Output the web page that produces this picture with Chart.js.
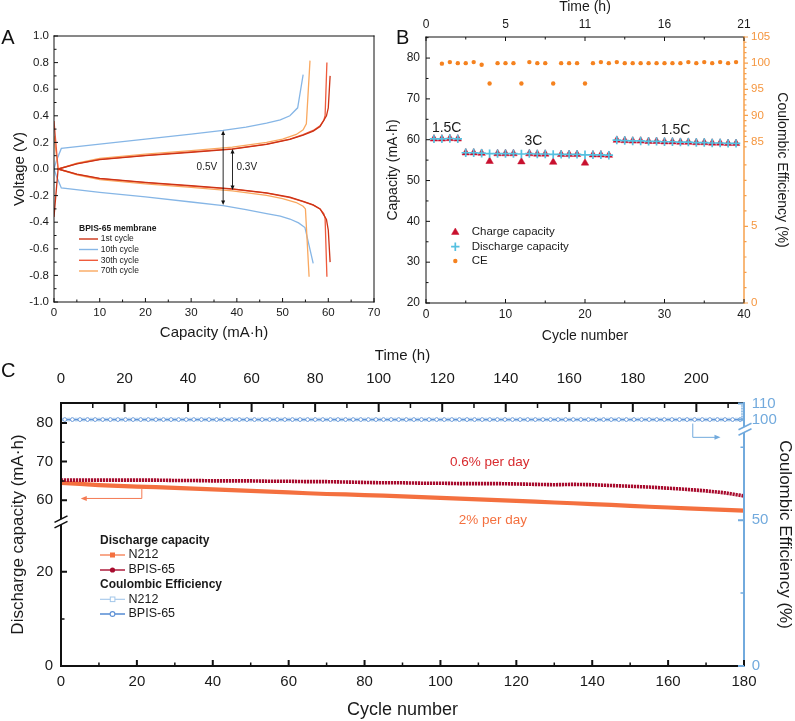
<!DOCTYPE html>
<html><head><meta charset="utf-8">
<script src="https://cdn.jsdelivr.net/npm/chart.js@4.4.1/dist/chart.umd.min.js"></script>
<style>
html,body{margin:0;padding:0;background:#fff;}
#wrap{position:relative;width:795px;height:721px;overflow:hidden;background:#fff;}
canvas{position:absolute;left:0;top:0;}
</style></head><body>
<div id="wrap">
<canvas id="cA" width="795" height="721"></canvas>
<canvas id="cB" width="795" height="721"></canvas>
<canvas id="cC" width="795" height="721"></canvas>
</div>
<script>
// ================= DATA =================
// Panel A: voltage profiles (capacity mA·h, voltage V)
const seriesNamesA = ['1st cycle', '10th cycle', '30th cycle', '70th cycle'];
const c1ChargeCap = [0, 0.9, 5, 10, 20, 30, 39, 46.5, 51.6, 54.5, 56.7, 58.2, 59.1, 59.6, 60.0, 60.4];
const c1ChargeV   = [-0.36, 0.0, 0.038, 0.07, 0.10, 0.125, 0.15, 0.185, 0.222, 0.255, 0.285, 0.32, 0.37, 0.40, 0.46, 0.70];
const c1DischCap  = [0.9, 5, 10, 20, 30, 39, 46.5, 51.6, 54.5, 56.7, 58.2, 59.1, 59.6, 60.0, 60.4];
const c1DischV    = [0.0, -0.038, -0.07, -0.10, -0.125, -0.15, -0.18, -0.212, -0.243, -0.27, -0.30, -0.35, -0.38, -0.46, -0.70];
const c10ChargeCap = [0, 0.5, 1.6, 10, 20, 30, 37, 42, 46.5, 49.5, 51.6, 53.3, 54.5];
const c10ChargeV   = [0.0, 0.06, 0.155, 0.187, 0.225, 0.262, 0.29, 0.315, 0.345, 0.37, 0.40, 0.46, 0.71];
const c10DischCap  = [0, 0.5, 1.6, 10, 20, 30, 37, 42, 46.5, 49.5, 51.6, 53.5, 54.9, 56.7];
const c10DischV    = [0.0, -0.05, -0.143, -0.175, -0.21, -0.248, -0.276, -0.305, -0.335, -0.355, -0.376, -0.405, -0.44, -0.71];
const c30ChargeCap = [0.9, 5, 10, 20, 30, 39, 46.5, 51.6, 54.5, 56.7, 58.2, 59.0, 59.3, 59.7];
const c30ChargeV   = [0.0, 0.04, 0.072, 0.103, 0.128, 0.152, 0.187, 0.224, 0.258, 0.29, 0.325, 0.365, 0.40, 0.80];
const c30DischCap  = [0, 0.9, 5, 10, 20, 30, 39, 46.5, 51.6, 54.5, 56.7, 58.2, 59.0, 59.3, 59.7];
const c30DischV    = [0.36, 0.0, -0.04, -0.072, -0.103, -0.128, -0.152, -0.182, -0.215, -0.245, -0.272, -0.30, -0.335, -0.37, -0.81];
const c70ChargeCap = [0.9, 5, 10, 20, 30, 39, 46.5, 50, 53, 54.5, 55.2, 56.0];
const c70ChargeV   = [0.0, 0.045, 0.08, 0.112, 0.138, 0.165, 0.2, 0.225, 0.26, 0.295, 0.34, 0.815];
const c70DischCap  = [0, 0.9, 5, 10, 20, 30, 39, 46.5, 50, 53, 54.5, 55.0, 55.8];
const c70DischV    = [0.25, 0.0, -0.045, -0.08, -0.112, -0.138, -0.165, -0.198, -0.222, -0.252, -0.28, -0.30, -0.81];

// Panel B: rate capability
const cyclesB = [1,2,3,4,5,6,7,8,9,10,11,12,13,14,15,16,17,18,19,20,21,22,23,24,25,26,27,28,29,30,31,32,33,34,35,36,37,38,39];
const chargeB = [60.2,60.2,60.3,60.2, 56.8,56.8,56.7,54.7,56.6,56.6,56.6,54.6,56.6,56.5,56.5,54.5,56.4,56.4,56.4,54.3,56.3,56.3,56.2,
                 59.9,59.8,59.7,59.7,59.6,59.6,59.5,59.5,59.4,59.4,59.3,59.3,59.2,59.2,59.1,59.1];
const dischargeB = [60.2,60.2,60.3,60.2, 56.8,56.8,56.7,56.6,56.6,56.6,56.6,56.5,56.6,56.5,56.5,56.4,56.4,56.4,56.4,56.3,56.3,56.3,56.2,
                 59.9,59.8,59.7,59.7,59.6,59.6,59.5,59.5,59.4,59.4,59.3,59.3,59.2,59.2,59.1,59.1];
const ceB = [null, 99.9,100.2,100.0,100.0,100.2,99.7,96.1,100.0,100.0,100.0,96.1,100.2,100.0,100.0,96.1,100.0,100.0,100.0,96.1,
             100.0,100.2,100.0,100.2,100.0,100.0,100.0,100.0,100.0,100.0,100.0,100.0,100.2,100.0,100.2,100.0,100.2,100.0,100.2];
const rateLabelsB = ['1.5C', '3C', '1.5C'];
const timeTicksB = [0, 5.25, 10.5, 15.75, 21];
const timeLabelsB = ['0', '5', '11', '16', '21'];

// Panel C: long-term cycling
const cyclesC = [0,5,10,15,20,25,30,35,40,45,50,55,60,65,70,75,80,85,90,95,100,105,110,115,120,125,130,135,140,145,150,155,160,165,170,175,180];
const n212DischargeC = [64.5,64.2,63.9,63.7,63.5,63.4,63.2,63.0,62.8,62.6,62.4,62.2,62.0,61.8,61.6,61.5,61.3,61.2,61.0,60.8,
                        60.6,60.4,60.2,60.0,59.8,59.6,59.4,59.2,59.0,58.8,58.5,58.3,58.1,57.9,57.7,57.5,57.3];
const bpisDischargeC = [65.2,65.2,65.2,65.2,65.2,65.2,65.1,65.1,65.0,65.0,65.0,64.9,64.9,64.8,64.8,64.7,64.6,64.5,64.5,64.4,
                        64.4,64.3,64.3,64.3,64.2,64.1,64.0,64.1,64.0,63.8,63.6,63.4,63.1,62.8,62.4,61.9,61.1];
const n212CE_C = [100,100,100,100,100,100,100,100,100,100, 100,100,100,100,100,100,100,100,100,100,
                  100,100,100,100,100,100,100,100,100,100, 100,100,100,100,100,100,100,100,100,100,
                  100,100,100,100,100,100,100,100,100,100, 100,100,100,100,100,100,100,100,100,100,
                  100,100,100,100,100,100,100,100,100,100, 100,100,100,100,100,100,100,100,100,100,
                  100,100,100,100,100,100,100,100,100,100, 100];
const bpisCE_C = [100,100,100,100,100,100,100,100,100,100, 100,100,100,100,100,100,100,100,100,100,
                  100,100,100,100,100,100,100,100,100,100, 100,100,100,100,100,100,100,100,100,100,
                  100,100,100,100,100,100,100,100,100,100, 100,100,100,100,100,100,100,100,100,100,
                  100,100,100,100,100,100,100,100,100,100, 100,100,100,100,100,100,100,100,100,100,
                  100,100,100,100,100,100,100,100,100,100];

// ================= HELPERS =================
const FONT = "'Liberation Sans', Arial, Helvetica, sans-serif";
Chart.defaults.font.family = FONT;
Chart.defaults.color = '#1a1a1a';
Chart.defaults.animation = false;
Chart.defaults.responsive = false;
Chart.defaults.plugins.legend.display = false;
Chart.defaults.plugins.tooltip.enabled = false;

const toXY = (xs, ys) => xs.map((x, i) => ({x: x, y: ys[i]}));
const range = (a, b, s) => { const r = []; for (let v = a; v <= b + 1e-9; v += s) r.push(+v.toFixed(6)); return r; };
const fitW = w => s => { s.width = w; s.paddingLeft = s.paddingRight = s.paddingTop = s.paddingBottom = 0; };
const fitH = h => s => { s.height = h; s.paddingLeft = s.paddingRight = s.paddingTop = s.paddingBottom = 0; };
const setTicks = arr => s => { s.ticks = arr.map(v => ({value: v})); };
const noGrid = {display: false, drawTicks: false};
const noBorder = {display: false};

// Broken (two-segment) linear scale
const BREAKS = {};
class BrokenScale extends Chart.LinearScale {
  _cfg() { return BREAKS[this.chart.canvas.id + ':' + this.id]; }
  getPixelForValue(v) {
    if (v === null || v === undefined || isNaN(v)) return NaN;
    const c = this._cfg();
    const s = v < c.breakValue ? c.segs[0] : c.segs[1];
    const f = s[1] + (v - s[0]) * (s[3] - s[1]) / (s[2] - s[0]);
    return this.getPixelForDecimal(f);
  }
  getValueForPixel(p) {
    const c = this._cfg();
    const d = this.getDecimalForPixel(p);
    const s = d < c.breakFrac ? c.segs[0] : c.segs[1];
    return s[0] + (d - s[1]) * (s[2] - s[0]) / (s[3] - s[1]);
  }
}
BrokenScale.id = 'broken';
BrokenScale.defaults = Chart.LinearScale.defaults;
Chart.register(BrokenScale);

function drawTicks(ctx, chart, scale, vals, len, side, color, lw) {
  const ca = chart.chartArea;
  ctx.save(); ctx.strokeStyle = color; ctx.lineWidth = lw; ctx.beginPath();
  for (const v of vals) {
    const p = scale.getPixelForValue(v);
    if (side === 'bottom') { ctx.moveTo(p, ca.bottom); ctx.lineTo(p, ca.bottom - len); }
    else if (side === 'top') { ctx.moveTo(p, ca.top); ctx.lineTo(p, ca.top + len); }
    else if (side === 'left') { ctx.moveTo(ca.left, p); ctx.lineTo(ca.left + len, p); }
    else if (side === 'right') { ctx.moveTo(ca.right, p); ctx.lineTo(ca.right - len, p); }
    else if (side === 'rightOut') { ctx.moveTo(ca.right, p); ctx.lineTo(ca.right + len, p); }
  }
  ctx.stroke(); ctx.restore();
}
function line(ctx, pts, color, lw, dash) {
  ctx.save(); ctx.strokeStyle = color; ctx.lineWidth = lw; if (dash) ctx.setLineDash(dash);
  ctx.beginPath(); ctx.moveTo(pts[0][0], pts[0][1]);
  for (let i = 1; i < pts.length; i++) ctx.lineTo(pts[i][0], pts[i][1]);
  ctx.stroke(); ctx.restore();
}
function arrowHead(ctx, x, y, dir, size, w, color) {
  ctx.save(); ctx.fillStyle = color; ctx.beginPath();
  if (dir === 'up') { ctx.moveTo(x, y); ctx.lineTo(x - w, y + size); ctx.lineTo(x + w, y + size); }
  else if (dir === 'down') { ctx.moveTo(x, y); ctx.lineTo(x - w, y - size); ctx.lineTo(x + w, y - size); }
  else if (dir === 'left') { ctx.moveTo(x, y); ctx.lineTo(x + size, y - w); ctx.lineTo(x + size, y + w); }
  else { ctx.moveTo(x, y); ctx.lineTo(x - size, y - w); ctx.lineTo(x - size, y + w); }
  ctx.closePath(); ctx.fill(); ctx.restore();
}
function text(ctx, s, x, y, font, color, align) {
  ctx.save(); ctx.font = font; ctx.fillStyle = color; ctx.textAlign = align || 'left'; ctx.textBaseline = 'middle';
  ctx.fillText(s, x, y); ctx.restore();
}
function breakMark(ctx, x, y, color, lw) {
  ctx.save();
  ctx.fillStyle = '#fff';
  ctx.beginPath(); ctx.moveTo(x - 6, y + 5.5); ctx.lineTo(x + 6, y - 0.5); ctx.lineTo(x + 6, y - 5.5); ctx.lineTo(x - 6, y + 0.5); ctx.closePath(); ctx.fill();
  ctx.strokeStyle = color; ctx.lineWidth = lw;
  ctx.beginPath();
  ctx.moveTo(x - 6.5, y + 6); ctx.lineTo(x + 6.5, y - 0.5);
  ctx.moveTo(x - 6.5, y + 0.5); ctx.lineTo(x + 6.5, y - 6);
  ctx.stroke(); ctx.restore();
}
function frame(ctx, ca, colors, lw) {
  ctx.save(); ctx.lineWidth = lw; ctx.lineCap = 'square';
  const sides = [['top', [ca.left, ca.top], [ca.right, ca.top]], ['bottom', [ca.left, ca.bottom], [ca.right, ca.bottom]],
                 ['left', [ca.left, ca.top], [ca.left, ca.bottom]], ['right', [ca.right, ca.top], [ca.right, ca.bottom]]];
  for (const [k, a, b] of sides) {
    if (!colors[k]) continue;
    ctx.strokeStyle = colors[k]; ctx.beginPath(); ctx.moveTo(a[0], a[1]); ctx.lineTo(b[0], b[1]); ctx.stroke();
  }
  ctx.restore();
}

// ================= PANEL A =================
const colA = {c1: '#cc3315', c10: '#86b6e6', c30: '#ef5b3c', c70: '#f9a85f'};
const dsA = (xs, ys, color) => ({data: toXY(xs, ys), borderColor: color, backgroundColor: color, borderWidth: 1.3, pointRadius: 0, showLine: true, tension: 0});
new Chart(document.getElementById('cA'), {
  type: 'scatter',
  data: {datasets: [
    dsA(c1ChargeCap, c1ChargeV, colA.c1), dsA(c1DischCap, c1DischV, colA.c1),
    dsA(c30ChargeCap, c30ChargeV, colA.c30), dsA(c30DischCap, c30DischV, colA.c30),
    dsA(c70ChargeCap, c70ChargeV, colA.c70), dsA(c70DischCap, c70DischV, colA.c70),
    dsA(c10ChargeCap, c10ChargeV, colA.c10), dsA(c10DischCap, c10DischV, colA.c10)
  ]},
  options: {
    layout: {padding: {left: 0, top: 36, right: 421, bottom: 374}},
    scales: {
      x: {type: 'linear', position: 'bottom', min: 0, max: 70, afterBuildTicks: setTicks(range(0, 70, 10)),
          ticks: {font: {size: 11.5}, padding: 4, color: '#1a1a1a', callback: v => String(v)},
          grid: noGrid, border: noBorder, afterFit: fitH(45),
          title: {display: true, text: 'Capacity (mA·h)', font: {size: 15}, color: '#1a1a1a', padding: {top: 0, bottom: 5}}},
      y: {type: 'linear', position: 'left', min: -1, max: 1, afterBuildTicks: setTicks(range(-1, 1, 0.2)),
          ticks: {font: {size: 11.5}, padding: 5, color: '#1a1a1a', callback: v => (Math.abs(v) < 1e-9 ? '0.0' : v.toFixed(1))},
          grid: noGrid, border: noBorder, afterFit: fitW(54),
          title: {display: true, text: 'Voltage (V)', font: {size: 15}, color: '#1a1a1a', padding: {top: 11, bottom: 0}}}
    }
  },
  plugins: [{id: 'decoA', afterDraw(chart) {
    const ctx = chart.ctx, ca = chart.chartArea, xs = chart.scales.x, ys = chart.scales.y;
    frame(ctx, ca, {top: '#111', bottom: '#111', left: '#111', right: '#111'}, 1);
    drawTicks(ctx, chart, xs, range(0, 70, 10), 4, 'bottom', '#111', 1);
    drawTicks(ctx, chart, xs, range(5, 65, 10), 2.5, 'bottom', '#111', 1);
    drawTicks(ctx, chart, ys, range(-1, 1, 0.2), 4, 'left', '#111', 1);
    drawTicks(ctx, chart, ys, range(-0.9, 0.9, 0.2), 2.5, 'left', '#111', 1);
    // voltage-gap arrows
    const ax1 = xs.getPixelForValue(37.0), ax2 = xs.getPixelForValue(39.05);
    const a1t = ys.getPixelForValue(0.29), a1b = ys.getPixelForValue(-0.27);
    const a2t = ys.getPixelForValue(0.15), a2b = ys.getPixelForValue(-0.158);
    line(ctx, [[ax1, a1t + 3], [ax1, a1b - 3]], '#111', 0.9);
    arrowHead(ctx, ax1, a1t, 'up', 4.5, 2, '#111'); arrowHead(ctx, ax1, a1b, 'down', 4.5, 2, '#111');
    line(ctx, [[ax2, a2t + 3], [ax2, a2b - 3]], '#111', 0.9);
    arrowHead(ctx, ax2, a2t, 'up', 4.5, 2, '#111'); arrowHead(ctx, ax2, a2b, 'down', 4.5, 2, '#111');
    const ly = ys.getPixelForValue(0.012);
    text(ctx, '0.5V', ax1 - 6, ly, '10px ' + FONT, '#1a1a1a', 'right');
    text(ctx, '0.3V', ax2 + 4, ly, '10px ' + FONT, '#1a1a1a', 'left');
    // legend
    text(ctx, 'BPIS-65 membrane', 79, 228.3, 'bold 8.5px ' + FONT, '#1a1a1a', 'left');
    const lc = [colA.c1, colA.c10, colA.c30, colA.c70], ly2 = [239, 249.5, 260.3, 271];
    for (let i = 0; i < 4; i++) {
      line(ctx, [[79, ly2[i]], [98, ly2[i]]], lc[i], 1.4);
      text(ctx, seriesNamesA[i], 100.7, ly2[i], '8.5px ' + FONT, '#1a1a1a', 'left');
    }
    text(ctx, 'A', 8, 38, '20px ' + FONT, '#111', 'center');
  }}]
});

// ================= PANEL B =================
BREAKS['cB:y2'] = {breakValue: 40, breakFrac: 0.58, segs: [[0, 0, 5, 0.2883], [85, 0.6068, 105, 1.0]]};
const cB = {charge: '#c8102e', dis: '#55c0e0', ce: '#f5821f', axis: '#f6a04c'};
new Chart(document.getElementById('cB'), {
  type: 'scatter',
  data: {datasets: [
    {data: toXY(cyclesB, dischargeB), pointStyle: 'cross', pointRadius: 4.2, pointBorderWidth: 1.7, borderColor: cB.dis, backgroundColor: cB.dis},
    {data: toXY(cyclesB, chargeB), pointStyle: 'triangle', pointRadius: 4.3, pointBorderWidth: 0.5, borderColor: cB.charge, backgroundColor: cB.charge},
    {data: toXY(cyclesB, ceB), yAxisID: 'y2', pointStyle: 'circle', pointRadius: 2.2, pointBorderWidth: 0, borderColor: cB.ce, backgroundColor: cB.ce}
  ]},
  options: {
    layout: {padding: {left: 380, top: 0, right: 0, bottom: 373}},
    scales: {
      x: {type: 'linear', position: 'bottom', min: 0, max: 40, afterBuildTicks: setTicks(range(0, 40, 10)),
          ticks: {font: {size: 12}, padding: 4.4, color: '#1a1a1a', callback: v => String(v)},
          grid: noGrid, border: noBorder, afterFit: fitH(45),
          title: {display: true, text: 'Cycle number', font: {size: 14}, color: '#1a1a1a', padding: {top: 0, bottom: 3.6}}},
      xt: {type: 'linear', position: 'top', min: 0, max: 21, afterBuildTicks: setTicks(timeTicksB),
          ticks: {font: {size: 12}, padding: 4.7, color: '#1a1a1a', callback: (v, i) => timeLabelsB[i]},
          grid: noGrid, border: noBorder, afterFit: fitH(37),
          title: {display: true, text: 'Time (h)', font: {size: 14, lineHeight: 1}, color: '#1a1a1a', padding: {top: -0.3, bottom: 0}}},
      y: {type: 'linear', position: 'left', min: 20, max: 85.16, afterBuildTicks: setTicks(range(20, 80, 10)),
          ticks: {font: {size: 12}, padding: 6, color: '#1a1a1a', callback: v => String(v)},
          grid: noGrid, border: noBorder, afterFit: fitW(46),
          title: {display: true, text: 'Capacity (mA·h)', font: {size: 14}, color: '#1a1a1a', padding: {top: 4.6, bottom: 0}}},
      y2: {type: 'broken', position: 'right', min: 0, max: 105, afterBuildTicks: setTicks([0, 5, 85, 90, 95, 100, 105]),
          ticks: {font: {size: 11.5}, padding: 7, color: '#f5963f', callback: v => String(v)},
          grid: noGrid, border: noBorder, afterFit: fitW(51),
          title: {display: true, text: 'Coulombic Efficiency (%)', font: {size: 14}, color: '#1a1a1a', padding: {top: 5, bottom: 0}}}
    }
  },
  plugins: [{id: 'decoB', afterDraw(chart) {
    const ctx = chart.ctx, ca = chart.chartArea, xs = chart.scales.x, xt = chart.scales.xt, ys = chart.scales.y, y2 = chart.scales.y2;
    frame(ctx, ca, {top: '#111', bottom: '#111', left: '#111'}, 1);
    frame(ctx, ca, {right: cB.axis}, 1.5);
    drawTicks(ctx, chart, xs, range(0, 40, 10), 4, 'bottom', '#111', 1);
    drawTicks(ctx, chart, xs, range(5, 35, 10), 2.5, 'bottom', '#111', 1);
    drawTicks(ctx, chart, xt, timeTicksB, 4, 'top', '#111', 1);
    drawTicks(ctx, chart, xt, [2.625, 7.875, 13.125, 18.375], 2.5, 'top', '#111', 1);
    drawTicks(ctx, chart, ys, range(20, 80, 10), 4, 'left', '#111', 1);
    drawTicks(ctx, chart, ys, range(25, 85, 10), 2.5, 'left', '#111', 1);
    drawTicks(ctx, chart, y2, [0, 5, 85, 90, 95, 100, 105], 4, 'rightOut', cB.axis, 1.2);
    drawTicks(ctx, chart, y2, range(1, 9, 1).filter(v => v !== 5), 2.5, 'rightOut', cB.axis, 1.2);
    drawTicks(ctx, chart, y2, range(84, 104, 1).filter(v => v % 5 !== 0), 2.5, 'rightOut', cB.axis, 1.2);
    // rate labels
    const f14 = '14px ' + FONT;
    text(ctx, rateLabelsB[0], xs.getPixelForValue(2.6), ys.getPixelForValue(62.8), f14, '#1a1a1a', 'center');
    text(ctx, rateLabelsB[1], xs.getPixelForValue(13.5), ys.getPixelForValue(59.7), f14, '#1a1a1a', 'center');
    text(ctx, rateLabelsB[2], xs.getPixelForValue(31.4), ys.getPixelForValue(62.3), f14, '#1a1a1a', 'center');
    // legend
    const lx = 455.3, lf = '11.5px ' + FONT;
    ctx.save(); ctx.fillStyle = cB.charge; ctx.strokeStyle = cB.charge; ctx.lineWidth = 0.5;
    Chart.helpers.drawPoint(ctx, {pointStyle: 'triangle', radius: 4.3, borderWidth: 0.5}, lx, 232.3); ctx.restore();
    ctx.save(); ctx.strokeStyle = cB.dis; ctx.lineWidth = 1.7;
    Chart.helpers.drawPoint(ctx, {pointStyle: 'cross', radius: 4.2, borderWidth: 1.7}, lx, 246.7); ctx.restore();
    ctx.save(); ctx.fillStyle = cB.ce; ctx.strokeStyle = cB.ce; ctx.lineWidth = 0;
    Chart.helpers.drawPoint(ctx, {pointStyle: 'circle', radius: 2.2, borderWidth: 0}, lx, 261); ctx.restore();
    text(ctx, 'Charge capacity', 471.7, 232.3, lf, '#1a1a1a');
    text(ctx, 'Discharge capacity', 471.7, 246.7, lf, '#1a1a1a');
    text(ctx, 'CE', 471.7, 261, lf, '#1a1a1a');
    text(ctx, 'B', 402.7, 38, '20px ' + FONT, '#111', 'center');
  }}]
});

// ================= PANEL C =================
BREAKS['cC:y'] = {breakValue: 42, breakFrac: 0.548, segs: [[0, 0, 20, 0.3581], [60, 0.6305, 80, 0.924]]};
BREAKS['cC:y2'] = {breakValue: 80, breakFrac: 0.90, segs: [[0, 0, 50, 0.5545], [100, 0.937, 110, 0.9977]]};
const cC = {n212: '#f4703f', bpis: '#a80c2e', ceN: '#a3c7ea', ceB: '#5f92d6', axis: '#72aadd'};
const evenC = n212CE_C.map((_, i) => i * 2);
const oddC = bpisCE_C.map((_, i) => i * 2 + 1);
new Chart(document.getElementById('cC'), {
  type: 'scatter',
  data: {datasets: [
    {data: toXY(oddC, bpisCE_C), yAxisID: 'y2', showLine: true, borderColor: cC.ceB, borderWidth: 1.2, pointStyle: 'circle', pointRadius: 1.9, pointBorderWidth: 0.9, pointBorderColor: cC.ceB, pointBackgroundColor: '#fff'},
    {data: toXY(evenC, n212CE_C), yAxisID: 'y2', showLine: true, borderColor: cC.ceN, borderWidth: 1, pointStyle: 'rect', pointRadius: 1.9, pointBorderWidth: 0.9, pointBorderColor: cC.ceN, pointBackgroundColor: '#fff'},
    {data: toXY(cyclesC, bpisDischargeC), showLine: true, borderColor: cC.bpis, borderWidth: 3.6, pointRadius: 0, borderDash: [2.2, 0.8]},
    {data: toXY(cyclesC, n212DischargeC), showLine: true, borderColor: cC.n212, borderWidth: 4.2, pointRadius: 0}
  ]},
  options: {
    layout: {padding: {left: 0, top: 340, right: 0, bottom: 0}},
    scales: {
      x: {type: 'linear', position: 'bottom', min: 0, max: 180, afterBuildTicks: setTicks(range(0, 180, 20)),
          ticks: {font: {size: 15}, padding: 6.7, color: '#1a1a1a', callback: v => String(v)},
          grid: noGrid, border: noBorder, afterFit: fitH(55),
          title: {display: true, text: 'Cycle number', font: {size: 18}, color: '#1a1a1a', padding: {top: 0, bottom: 0}}},
      xt: {type: 'linear', position: 'top', min: 0, max: 215, afterBuildTicks: setTicks(range(0, 200, 20)),
          ticks: {font: {size: 15}, padding: 14.7, color: '#1a1a1a', callback: v => String(v)},
          grid: noGrid, border: noBorder, afterFit: fitH(63),
          title: {display: true, text: 'Time (h)', font: {size: 15}, color: '#1a1a1a', padding: {top: 6.7, bottom: 0}}},
      y: {type: 'broken', position: 'left', min: 0, max: 85.18, afterBuildTicks: setTicks([0, 20, 60, 70, 80]),
          ticks: {font: {size: 15}, padding: 8, color: '#1a1a1a', callback: v => String(v)},
          grid: noGrid, border: noBorder, afterFit: fitW(61),
          title: {display: true, text: 'Discharge capacity (mA·h)', font: {size: 17}, color: '#1a1a1a', padding: {top: 8.1, bottom: 0}}},
      y2: {type: 'broken', position: 'right', min: 0, max: 110, afterBuildTicks: setTicks([0, 50, 100, 110]),
          ticks: {font: {size: 15}, padding: 7.7, color: cC.axis, callback: v => String(v)},
          grid: noGrid, border: noBorder, afterFit: fitW(51),
          title: {display: true, text: 'Coulombic Efficiency (%)', font: {size: 17}, color: '#1a1a1a', padding: {top: 0, bottom: 0}}}
    }
  },
  plugins: [{id: 'decoC', afterDraw(chart) {
    const ctx = chart.ctx, ca = chart.chartArea, xs = chart.scales.x, xt = chart.scales.xt, ys = chart.scales.y, y2 = chart.scales.y2;
    frame(ctx, ca, {top: '#111', bottom: '#111', left: '#111'}, 2);
    frame(ctx, ca, {right: cC.axis}, 2);
    drawTicks(ctx, chart, xs, range(0, 180, 20), 6, 'bottom', '#111', 2);
    drawTicks(ctx, chart, xs, range(10, 170, 20), 3.5, 'bottom', '#111', 1.5);
    drawTicks(ctx, chart, xt, range(0, 200, 20), 9, 'top', '#111', 2);
    drawTicks(ctx, chart, xt, range(10, 210, 20), 5, 'top', '#111', 1.5);
    drawTicks(ctx, chart, ys, [0, 20, 60, 70, 80], 6, 'left', '#111', 2);
    drawTicks(ctx, chart, ys, [10, 65, 75], 3.5, 'left', '#111', 1.5);
    drawTicks(ctx, chart, y2, [0, 50, 100, 110], 6, 'right', cC.axis, 2);
    drawTicks(ctx, chart, y2, [25, 75], 3.5, 'right', cC.axis, 1.5);
    drawTicks(ctx, chart, y2, [101, 102, 103, 104, 105, 106, 107, 108, 109], 3, 'right', cC.axis, 0.8);
    breakMark(ctx, ca.left, ys.getPixelForDecimal(0.548), '#111', 1.6);
    breakMark(ctx, ca.right + 1, y2.getPixelForDecimal(0.90), cC.axis, 1.6);
    // annotations
    text(ctx, '0.6% per day', xs.getPixelForValue(113.0), ys.getPixelForValue(69.7), '13.5px ' + FONT, '#d82a2e', 'center');
    text(ctx, '2% per day', xs.getPixelForValue(113.8), ys.getPixelForValue(54.8) , '13.5px ' + FONT, cC.n212, 'center');
    // arrows
    const ox = xs.getPixelForValue(21.3), oy1 = ys.getPixelForValue(62.9), oy2 = ys.getPixelForValue(60.45);
    line(ctx, [[ox, oy1], [ox, oy2], [xs.getPixelForValue(6.2), oy2]], '#f47a52', 1);
    arrowHead(ctx, xs.getPixelForValue(5.2), oy2, 'left', 6, 2.5, '#f47a52');
    const bx = xs.getPixelForValue(166.5), by1 = y2.getPixelForValue(97.5), by2 = y2.getPixelForValue(78.4);
    line(ctx, [[bx, by1], [bx, by2], [xs.getPixelForValue(172.6), by2]], cC.axis, 1);
    arrowHead(ctx, xs.getPixelForValue(173.8), by2, 'right', 6, 2.5, cC.axis);
    // legend
    const fb = 'bold 12px ' + FONT, fr = '12.5px ' + FONT;
    text(ctx, 'Discharge capacity', 100, 541, fb, '#1a1a1a');
    line(ctx, [[100, 555], [125, 555]], cC.n212, 1.2);
    ctx.save(); ctx.fillStyle = cC.n212; ctx.fillRect(110, 552.5, 5, 5); ctx.restore();
    text(ctx, 'N212', 128.5, 555, fr, '#1a1a1a');
    line(ctx, [[100, 570], [125, 570]], cC.bpis, 1.4);
    ctx.save(); ctx.fillStyle = cC.bpis; ctx.beginPath(); ctx.arc(112.5, 570, 2.6, 0, Math.PI * 2); ctx.fill(); ctx.restore();
    text(ctx, 'BPIS-65', 128.5, 570, fr, '#1a1a1a');
    text(ctx, 'Coulombic Efficiency', 100, 585, fb, '#1a1a1a');
    line(ctx, [[100, 599.3], [125, 599.3]], cC.ceN, 1.1);
    ctx.save(); ctx.fillStyle = '#fff'; ctx.strokeStyle = cC.ceN; ctx.lineWidth = 1; ctx.fillRect(110.3, 597, 4.6, 4.6); ctx.strokeRect(110.3, 597, 4.6, 4.6); ctx.restore();
    text(ctx, 'N212', 128.5, 599.3, fr, '#1a1a1a');
    line(ctx, [[100, 614], [125, 614]], cC.ceB, 1.6);
    ctx.save(); ctx.fillStyle = '#fff'; ctx.strokeStyle = cC.ceB; ctx.lineWidth = 1.1; ctx.beginPath(); ctx.arc(112.5, 614, 2.4, 0, Math.PI * 2); ctx.fill(); ctx.stroke(); ctx.restore();
    text(ctx, 'BPIS-65', 128.5, 614, fr, '#1a1a1a');
    text(ctx, 'C', 8.3, 371, '20px ' + FONT, '#111', 'center');
  }}]
});
</script>
</body></html>
